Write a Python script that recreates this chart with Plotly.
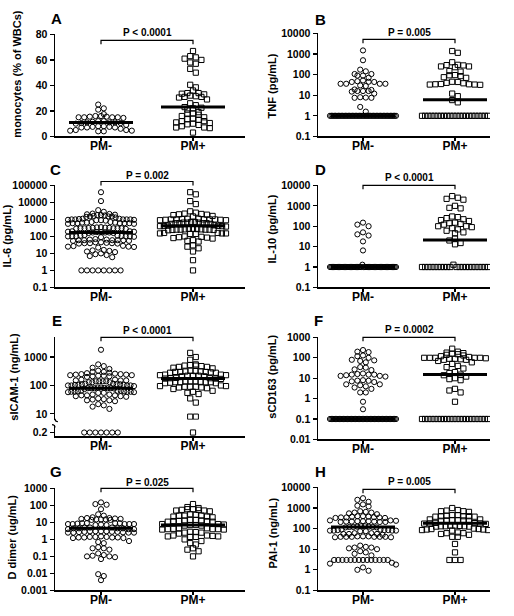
import numpy as np
import plotly.graph_objects as go

W, H = 514, 616
FONT = "Liberation Sans"

categories = ["PM-", "PM+"]

# ---------------- data ----------------
A_neg = [25, 22, 21, 17.5, 16, 16, 15.5, 15.5, 15, 15, 15, 15, 14.5, 12, 12, 11.5, 11, 11, 11,
         10.5, 10.5, 10, 9, 8, 8, 7.5, 7.5, 7, 7, 7, 6, 5, 5, 4.5, 4.5, 4, 4]
A_pos = [67, 63, 62, 61, 60, 58, 57, 53, 50, 40.5, 38.5, 36, 34, 34, 33.5, 33, 32, 31.5, 31, 31,
         30.5, 29, 26, 24.5, 23, 22.5, 22, 21, 19, 18, 18, 17, 16, 15, 14, 13.5, 13, 12, 12, 11,
         10.5, 10, 9.5, 9, 8, 7, 7, 6.5, 3]
A_median = [11, 23]

B_neg = [1500, 500, 175, 145, 107, 90, 90, 107, 70, 52, 44, 44, 36, 36, 36, 36, 45, 48, 30, 28,
         19, 15, 12, 16, 16, 16, 18, 7.7, 7.5, 7.5, 8, 2.7, 1.6,
         1, 1, 1, 1, 1, 1, 1, 1, 1, 1, 1, 1, 1, 1, 1, 1, 1, 1, 1, 1, 1, 1, 1, 1,
         1, 1, 1, 1, 1, 1, 1, 1, 1, 1, 1, 1, 1, 1, 1, 1, 1, 1, 1, 1, 1, 1, 1, 1]
B_pos = [1400, 1150, 400, 300, 250, 250, 280, 290, 230, 150, 140, 95, 85, 70, 75, 93, 45, 40, 34,
         33, 32, 33, 34, 35, 38, 44, 12, 9, 5.8, 4.5,
         1, 1, 1, 1, 1, 1, 1, 1, 1, 1, 1, 1, 1, 1, 1, 1, 1, 1, 1, 1, 1, 1]
B_median = [1, 6]

C_neg = [40000, 12000, 3500, 2800, 2200,
         2000, 1900, 1800, 1700, 1600, 1500, 1500, 1400, 1300, 1500, 1800, 2100,
         1100, 1000, 1000, 950, 900, 1000, 1050, 1100, 900, 850, 1000, 950, 1000,
         700, 650, 600, 600, 550, 600, 650, 700, 600, 550, 600, 650,
         350, 320, 300, 300, 280, 300, 310, 330, 300, 290, 300, 320, 340,
         200, 190, 180, 170, 170, 160, 170, 180, 190, 200, 160,
         110, 100, 100, 95, 100, 105, 100, 90, 100, 110, 120,
         65, 60, 55, 60, 60, 65, 70, 60, 55, 60,
         45, 40, 38, 40, 42, 40, 45, 38,
         28, 25, 22, 25, 27, 24,
         15, 14, 13, 16, 12,
         10, 8, 7, 6, 9,
         1, 1, 1, 1, 1, 1, 1, 1]
C_pos = [40000, 30000, 12000, 8000,
         3000, 2500, 2200, 2000, 1800, 1600, 1500, 1900, 2100,
         1100, 1000, 900, 1000, 1050, 950, 1000, 1100, 900, 1000, 1000, 950,
         700, 650, 600, 600, 550, 650, 700, 600, 550, 600, 650,
         450, 400, 420, 380, 400, 430, 410,
         280, 260, 250, 240, 250, 260, 270, 250, 240, 230, 250, 280,
         160, 150, 140, 150, 160, 150, 140,
         100, 90, 85, 95, 80, 75,
         60, 55, 50,
         30, 25, 20,
         13, 4, 1]
C_median = [170, 420]

D_neg = [150, 120, 100, 50, 40, 35, 18, 6.5, 1.3,
         1, 1, 1, 1, 1, 1, 1, 1, 1, 1, 1, 1, 1, 1, 1, 1, 1, 1, 1, 1, 1, 1, 1, 1, 1, 1, 1, 1,
         1, 1, 1, 1, 1, 1, 1, 1, 1, 1, 1, 1, 1, 1, 1, 1, 1, 1, 1, 1, 1, 1, 1, 1, 1, 1, 1]
D_pos = [3000, 2500, 2200, 2000, 1000, 800, 750, 300, 280, 250, 220, 200, 180, 150, 140, 130,
         120, 100, 100, 90, 80, 70, 60, 50, 45, 25, 20, 15, 13, 1.3,
         1, 1, 1, 1, 1, 1, 1, 1, 1, 1, 1, 1, 1, 1, 1, 1, 1, 1, 1, 1, 1]
D_median = [1, 21]

E_neg = [1800,
         550, 480, 420, 380,
         330, 300, 280, 260, 250, 270, 300,
         240, 230, 220, 210, 200, 220, 230, 250, 240, 210,
         160, 150, 140, 130, 140, 150, 160, 140, 130, 150, 140, 130,
         115, 110, 105, 100, 100, 110, 105, 100, 95, 110, 115, 100, 105,
         85, 80, 80, 75, 80, 85, 80, 78, 82, 80,
         65, 60, 58, 62, 60, 55, 65, 60, 58, 62, 60, 55, 65,
         48, 45, 42, 45, 48, 45, 42, 40,
         35, 32, 30, 28, 33, 30,
         22, 20, 18, 15,
         0.2, 0.2, 0.2, 0.2, 0.2, 0.2, 0.2]
E_pos = [1400, 1000, 800,
         550, 500, 480, 450, 420, 400, 450, 500, 520,
         330, 300, 280, 310, 290, 300, 320, 280, 300, 310,
         240, 230, 220, 210, 220, 230, 240, 210, 220,
         180, 175, 170, 185, 175, 180,
         140, 130, 120, 130, 140, 125, 135, 130, 120, 140, 130,
         100, 95, 90, 85, 90, 95, 80, 75, 85, 90,
         65, 60, 55, 50,
         35, 25, 8, 8, 0.2]
E_median = [80, 175]

F_neg = [240, 200, 190, 130, 120, 100, 80, 75, 70, 60, 35, 33, 27, 25, 17, 16, 15, 15, 15, 14,
         13, 13, 12, 8, 7.6, 7.5, 7, 6.5, 5, 5, 4.5, 4, 3.5, 3, 2, 2, 0.7, 0.3,
         0.1, 0.1, 0.1, 0.1, 0.1, 0.1, 0.1, 0.1, 0.1, 0.1, 0.1, 0.1, 0.1, 0.1, 0.1, 0.1, 0.1,
         0.1, 0.1, 0.1, 0.1, 0.1, 0.1, 0.1, 0.1, 0.1, 0.1, 0.1, 0.1, 0.1, 0.1, 0.1, 0.1, 0.1,
         0.1, 0.1, 0.1, 0.1, 0.1, 0.1, 0.1, 0.1, 0.1, 0.1, 0.1, 0.1, 0.1, 0.1, 0.1, 0.1]
F_pos = [280, 200, 180, 170, 160, 150, 140, 130, 120, 110, 100, 100, 100, 100, 100, 95, 90, 90,
         85, 80, 80, 70, 60, 50, 40, 35, 30, 20, 18, 15, 14, 12, 10, 9, 8, 3, 2.5, 2, 0.7,
         0.1, 0.1, 0.1, 0.1, 0.1, 0.1, 0.1, 0.1, 0.1, 0.1, 0.1, 0.1, 0.1, 0.1, 0.1, 0.1,
         0.1, 0.1, 0.1, 0.1, 0.1, 0.1]
F_median = [0.1, 15]

G_neg = [150, 120, 110, 60, 30, 25, 20,
         18, 16, 15, 14, 17, 15, 16, 18, 14, 15,
         9, 8, 8, 7, 9, 8, 8.5, 7.5, 9, 8, 7, 8, 9,
         5, 4.5, 4.5, 4, 5, 4.5, 4, 5, 4.5, 4,
         3, 2.8, 2.5, 2.5, 2.7, 3, 2.5, 2.8, 2.6, 3, 2.5, 2.8, 3,
         1.4, 1.3, 1.3, 1.2, 1.4, 1.3, 1.5, 1.3, 1.4, 1.2,
         0.8, 0.7, 0.6,
         0.35, 0.3, 0.25, 0.3,
         0.15, 0.12, 0.1, 0.1, 0.09, 0.11,
         0.07, 0.009, 0.007, 0.004]
G_pos = [120, 80, 70, 60, 55, 50, 45, 50, 55, 60,
         28, 25, 22, 25, 30, 22, 20, 25,
         14, 12, 11, 13, 12, 14, 11, 12, 13,
         8, 7, 7, 6.5, 7.5, 8, 6.5,
         4.5, 4, 3.8, 4.2, 4, 4.5, 3.8, 4,
         2.8, 2.5, 2.2, 2.5, 2.7,
         1.7, 1.5, 1.4, 1.6, 1.5, 1.7, 1.4,
         1, 0.8, 0.6,
         0.5, 0.3, 0.25, 0.2, 0.1]
G_median = [4.5, 7]

H_neg = [3000, 2500, 2000,
         1500, 1300, 1200,
         700, 650, 600, 550, 500, 600,
         400, 380, 350, 330, 350, 380, 400, 350, 330, 360,
         250, 230, 220, 210, 220, 230, 250, 210, 220, 240, 230, 210,
         130, 125, 120, 115, 120, 125, 130, 120, 115,
         90, 85, 80, 75, 80, 85, 90, 80, 75, 85, 80,
         60, 55, 55, 50, 60, 55,
         42, 40, 40, 38, 40, 42, 40, 38, 40, 42, 40,
         15, 13, 12, 11, 12, 10,
         8, 7, 6, 5,
         3, 3, 3, 3, 3, 3, 3, 3, 3, 3, 3, 3, 3, 3,
         2.2, 2, 1.8, 1.3, 1.0, 0.9]
H_pos = [1000, 800, 700, 700, 650, 750,
         450, 400, 380, 420, 400, 450, 380, 400,
         280, 260, 250, 240, 250, 260, 280, 240,
         190, 180, 175, 185, 180, 170,
         140, 130, 125, 135, 130, 140, 125, 130,
         100, 95, 90, 85, 90, 95, 85, 80,
         65, 60, 55, 60, 50,
         40, 40, 18, 7, 3, 3, 3]
H_median = [120, 180]

p_texts = ["P < 0.0001", "P = 0.005", "P = 0.002", "P < 0.0001",
           "P < 0.0001", "P = 0.0002", "P = 0.025", "P = 0.005"]
y_titles = ["monocytes (% of WBCs)", "TNF (pg/mL)", "IL-6 (pg/mL)", "IL-10 (pg/mL)",
            "sICAM-1 (ng/mL)", "sCD163 (pg/mL)", "D dimer (ug/mL)", "PAI-1 (ng/mL)"]
letters = ["A", "B", "C", "D", "E", "F", "G", "H"]

A_ticks = [0, 20, 40, 60, 80]
B_ticks = [0.1, 1, 10, 100, 1000, 10000]
C_ticks = [0.1, 1, 10, 100, 1000, 10000, 100000]
D_ticks = [0.1, 1, 10, 100, 1000, 10000]
E_ticks_upper = [10, 100, 1000]
E_ticks_lower = [0.2]
F_ticks = [0.01, 0.1, 1, 10, 100, 1000]
G_ticks = [0.001, 0.01, 0.1, 1, 10, 100, 1000]
H_ticks = [0.1, 1, 10, 100, 1000, 10000]

# ---------------- layout geometry (window pixels) ----------------
COLS = {"L": (55, 245, 101, 193), "R": (318, 490, 363, 455)}

panels = [
    dict(col="L", ax=[dict(top=29, bot=133, lo=0, hi=80, log=False, ticks=A_ticks)],
         neg=A_neg, pos=A_pos, med=A_median, letter=(56, 13), title=(17, 70),
         ptxt=27, bar=35),
    dict(col="R", ax=[dict(top=28, bot=133, lo=0.1, hi=10000, log=True, ticks=B_ticks)],
         neg=B_neg, pos=B_pos, med=B_median, letter=(320, 14), title=(272, 82),
         ptxt=27, bar=34),
    dict(col="L", ax=[dict(top=183, bot=287, lo=0.1, hi=100000, log=True, ticks=C_ticks)],
         neg=C_neg, pos=C_pos, med=C_median, letter=(55, 167), title=(7, 235),
         ptxt=173, bar=179),
    dict(col="R", ax=[dict(top=183, bot=287, lo=0.1, hi=10000, log=True, ticks=D_ticks)],
         neg=D_neg, pos=D_pos, med=D_median, letter=(320, 167), title=(272, 228),
         ptxt=175, bar=183),
    dict(col="L", ax=[dict(top=338, bot=422, lo=10 ** 0.7931, hi=10 ** 3.6897, log=True,
                           ticks=E_ticks_upper, minv=1),
                      dict(top=427, bot=439, lo=0.14, hi=0.32, log=False,
                           ticks=E_ticks_lower, maxv=1)],
         neg=E_neg, pos=E_pos, med=E_median, letter=(57, 321), title=(14, 378),
         ptxt=331, bar=338),
    dict(col="R", ax=[dict(top=338, bot=442, lo=0.01, hi=1000, log=True, ticks=F_ticks)],
         neg=F_neg, pos=F_pos, med=F_median, letter=(318, 321), title=(272, 378),
         ptxt=330, bar=338),
    dict(col="L", ax=[dict(top=492, bot=596, lo=0.001, hi=1000, log=True, ticks=G_ticks)],
         neg=G_neg, pos=G_pos, med=G_median, letter=(56, 475), title=(12, 542),
         ptxt=486, bar=492),
    dict(col="R", ax=[dict(top=491, bot=596, lo=0.1, hi=10000, log=True, ticks=H_ticks)],
         neg=H_neg, pos=H_pos, med=H_median, letter=(320, 475), title=(273, 538),
         ptxt=485, bar=493),
]


def fx(px):
    return px / W


def fy(py):
    return 1 - py / H


def make_mapper(a):
    f = (lambda v: np.log10(np.asarray(v, float))) if a["log"] else (lambda v: np.asarray(v, float))

    def m(v):
        return a["bot"] - (f(v) - f(a["lo"])) / (f(a["hi"]) - f(a["lo"])) * (a["bot"] - a["top"])
    return m


def beeswarm(values, mapper, sp=5.6, maxhalf=33.0, binh=5.0):
    vals = np.asarray(values, float)
    py = mapper(vals)
    order = np.argsort(py, kind="stable")
    bins, cur, start = [], [order[0]], py[order[0]]
    for idx in order[1:]:
        if py[idx] - start < binh:
            cur.append(idx)
        else:
            bins.append(cur)
            cur, start = [idx], py[idx]
    bins.append(cur)
    offs = np.zeros(len(vals))
    for b in bins:
        n = len(b)
        if n == 1:
            continue
        s = min(sp, 2 * maxhalf / (n - 1))
        pos = [(i - (n - 1) / 2) * s for i in range(n)]
        pos_sorted = sorted(pos, key=lambda p: (abs(p), p))
        for idx, p in zip(b, pos_sorted):
            offs[idx] = p
    return offs


fig = go.Figure()
layout = dict(width=W, height=H, margin=dict(l=0, r=0, t=0, b=0),
              paper_bgcolor="white", plot_bgcolor="white", showlegend=False)
annotations, shapes = [], []

ax_i = 0
tickfont = dict(family=FONT, size=10.5, color="black", weight="bold")
for pi, p in enumerate(panels):
    x0, x1, c0, c1 = COLS[p["col"]]
    ppu = c1 - c0
    xr = [(x0 - c0) / ppu, (x1 - c0) / ppu]
    n_ax = len(p["ax"])
    for k, a in enumerate(p["ax"]):
        ax_i += 1
        sfx = "" if ax_i == 1 else str(ax_i)
        xname, yname = "xaxis" + sfx, "yaxis" + sfx
        xref, yref = "x" + sfx, "y" + sfx
        is_bottom = (k == n_ax - 1)
        layout[xname] = dict(domain=[fx(x0), fx(x1)], range=xr, anchor=yref,
                             visible=is_bottom, showline=True, linecolor="black", linewidth=1.5,
                             ticks="outside", ticklen=3, tickwidth=1.2, tickcolor="black",
                             tickvals=[0, 1], ticktext=categories, showgrid=False, zeroline=False,
                             ticklabelstandoff=-5,
                             tickfont=dict(family=FONT, size=12, color="black", weight="bold"),
                             fixedrange=True)
        if a["log"]:
            yr = [np.log10(a["lo"]), np.log10(a["hi"])]
            ytype = "log"
        else:
            yr = [a["lo"], a["hi"]]
            ytype = "linear"
        layout[yname] = dict(domain=[fy(a["bot"]), fy(a["top"])], range=yr, type=ytype,
                             anchor=xref, showline=True, linecolor="black", linewidth=1.5,
                             ticks="outside", ticklen=4, tickwidth=1.2, tickcolor="black",
                             tickvals=a["ticks"], ticktext=["{:g}".format(t) for t in a["ticks"]],
                             showgrid=False, zeroline=False, tickfont=tickfont, fixedrange=True)
        mp = make_mapper(a)
        for ci, (vals, sym) in enumerate([(p["neg"], "circle-open"), (p["pos"], "square-open")]):
            v = np.asarray(vals, float)
            if "minv" in a:
                v = v[v >= a["minv"]]
            if "maxv" in a:
                v = v[v < a["maxv"]]
            if len(v) == 0:
                continue
            offs = beeswarm(v, mp)
            fig.add_trace(go.Scatter(x=ci + offs / ppu, y=v, mode="markers", xaxis=xref, yaxis=yref,
                                     marker=dict(symbol=sym, size=5.2, color="black",
                                                 line=dict(width=1, color="black")),
                                     hoverinfo="skip"))
            med = p["med"][ci]
            if (a.get("minv") is None or med >= a["minv"]) and (a.get("maxv") is None or med < a["maxv"]):
                hw = 32 / ppu
                fig.add_trace(go.Scatter(x=[ci - hw, ci + hw], y=[med, med], mode="lines",
                                         xaxis=xref, yaxis=yref,
                                         line=dict(color="black", width=3), hoverinfo="skip"))

    annotations.append(dict(x=fx(p["letter"][0]), y=fy(p["letter"][1]), xref="paper", yref="paper",
                            text=letters[pi], showarrow=False, xanchor="center", yanchor="middle",
                            font=dict(family=FONT, size=15, color="black", weight="bold")))
    annotations.append(dict(x=fx(p["title"][0]), y=fy(p["title"][1]), xref="paper", yref="paper",
                            text=y_titles[pi], showarrow=False, textangle=-90,
                            xanchor="center", yanchor="middle",
                            font=dict(family=FONT, size=11, color="black", weight="bold")))
    annotations.append(dict(x=fx((c0 + c1) / 2), y=fy(p["ptxt"]), xref="paper", yref="paper",
                            text=p_texts[pi], showarrow=False, xanchor="center", yanchor="middle",
                            font=dict(family=FONT, size=10, color="black", weight="bold")))
    b = p["bar"]
    shapes.append(dict(type="path", xref="paper", yref="paper",
                       path="M {:.5f},{:.5f} L {:.5f},{:.5f} L {:.5f},{:.5f} L {:.5f},{:.5f}".format(
                           fx(c0), fy(b + 4), fx(c0), fy(b), fx(c1), fy(b), fx(c1), fy(b + 4)),
                       line=dict(color="black", width=1.2)))

# axis break marks for panel E
shapes.append(dict(type="path", xref="paper", yref="paper",
                   path="M {:.5f},{:.5f} Q {:.5f},{:.5f} {:.5f},{:.5f}".format(
                       fx(55), fy(421), fx(55), fy(424), fx(58), fy(424)),
                   line=dict(color="black", width=1.2)))
shapes.append(dict(type="path", xref="paper", yref="paper",
                   path="M {:.5f},{:.5f} Q {:.5f},{:.5f} {:.5f},{:.5f}".format(
                       fx(52), fy(427), fx(55), fy(427), fx(55), fy(430)),
                   line=dict(color="black", width=1.2)))

layout["annotations"] = annotations
layout["shapes"] = shapes
fig.update_layout(**layout)
fig.write_html("out.html", config={"displayModeBar": False, "staticPlot": True},
               post_script="document.body.style.margin='0px';document.body.style.overflow='hidden';")
